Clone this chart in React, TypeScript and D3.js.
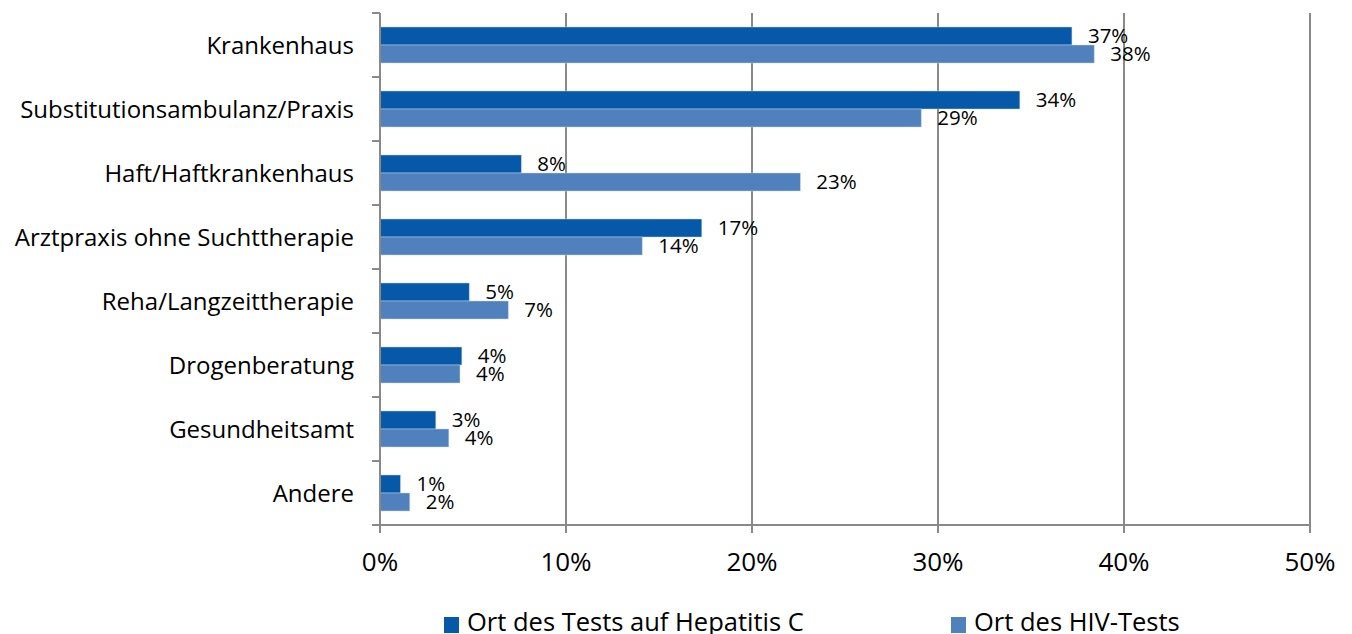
import React from "react";
import * as d3 from "d3";

const categories = [
  "Krankenhaus",
  "Substitutionsambulanz/Praxis",
  "Haft/Haftkrankenhaus",
  "Arztpraxis ohne Suchttherapie",
  "Reha/Langzeittherapie",
  "Drogenberatung",
  "Gesundheitsamt",
  "Andere",
];
const hepatitisC = [0.372, 0.344, 0.076, 0.173, 0.048, 0.044, 0.030, 0.011];
const hiv = [0.384, 0.291, 0.226, 0.141, 0.069, 0.043, 0.037, 0.016];
const valueLabelsHCV = ["37%", "34%", "8%", "17%", "5%", "4%", "3%", "1%"];
const valueLabelsHIV = ["38%", "29%", "23%", "14%", "7%", "4%", "4%", "2%"];
const xTicks = [0, 0.1, 0.2, 0.3, 0.4, 0.5];
const seriesNames = ["Ort des Tests auf Hepatitis C", "Ort des HIV-Tests"];
const seriesColors = ["#0559A8", "#4F81BD"];

const W = 1352;
const H = 634;
const FONT = "'Open Sans', 'Noto Sans', sans-serif";

export default function App() {
  const x = d3.scaleLinear().domain([0, 0.5]).range([380, 1310]);
  const y = d3
    .scaleBand<string>()
    .domain(categories)
    .range([13, 525])
    .paddingInner(0.4375)
    .paddingOuter(0.21875);
  const inner = d3.scaleBand<number>().domain([0, 1]).range([0, y.bandwidth()]);
  const series = [hepatitisC, hiv];
  const labels = [valueLabelsHCV, valueLabelsHIV];
  const boundaries = d3.range(categories.length + 1).map((i) => 13 + i * y.step());
  const axisColor = "#898989";

  return (
    <svg
      width={W}
      height={H}
      style={{ position: "absolute", left: 0, top: 0, background: "#fff" }}
      fontFamily={FONT}
    >
      {/* gridlines */}
      {xTicks.slice(1).map((t) => (
        <line key={"g" + t} x1={x(t)} x2={x(t)} y1={13} y2={525} stroke={axisColor} strokeWidth={2} />
      ))}
      {/* bars */}
      {categories.map((c, i) =>
        series.map((s, si) => (
          <rect
            key={c + si}
            x={x(0)}
            y={(y(c) as number) + (inner(si) as number)}
            width={x(s[i]) - x(0)}
            height={inner.bandwidth()}
            fill={seriesColors[si]}
            stroke="#c9d7ea"
            strokeOpacity={0.6}
            strokeWidth={0.8}
          />
        ))
      )}
      {/* left axis */}
      <line x1={380} x2={380} y1={13} y2={525} stroke={axisColor} strokeWidth={2} />
      {boundaries.map((b) => (
        <line key={"t" + b} x1={372} x2={380} y1={b} y2={b} stroke={axisColor} strokeWidth={2} />
      ))}
      {/* bottom axis */}
      <line x1={372} x2={1310} y1={525} y2={525} stroke={axisColor} strokeWidth={2} />
      {xTicks.map((t) => (
        <line key={"bt" + t} x1={x(t)} x2={x(t)} y1={525} y2={533} stroke={axisColor} strokeWidth={2} />
      ))}
      {xTicks.map((t) => (
        <text key={"tl" + t} x={x(t)} y={562} dy="0.36em" textAnchor="middle" fontSize={26} fill="#000">
          {d3.format(".0%")(t)}
        </text>
      ))}
      {/* category labels */}
      {categories.map((c) => (
        <text
          key={"c" + c}
          x={354}
          y={(y(c) as number) + y.bandwidth() / 2}
          dy="0.36em"
          textAnchor="end"
          fontSize={24}
          fill="#000"
        >
          {c}
        </text>
      ))}
      {/* value labels */}
      {categories.map((c, i) =>
        series.map((s, si) => (
          <text
            key={"v" + c + si}
            x={x(s[i]) + 16}
            y={(y(c) as number) + (inner(si) as number) + inner.bandwidth() / 2}
            dy="0.36em"
            fontSize={20.5}
            fill="#000"
          >
            {labels[si][i]}
          </text>
        ))
      )}
      {/* legend */}
      {seriesNames.map((n, si) => {
        const lx = si === 0 ? 444 : 951;
        return (
          <g key={"l" + si}>
            <rect x={lx} y={617} width={15} height={16} fill={seriesColors[si]} />
            <text x={lx + 23} y={631} fontSize={25.5} fill="#000">
              {n}
            </text>
          </g>
        );
      })}
    </svg>
  );
}
